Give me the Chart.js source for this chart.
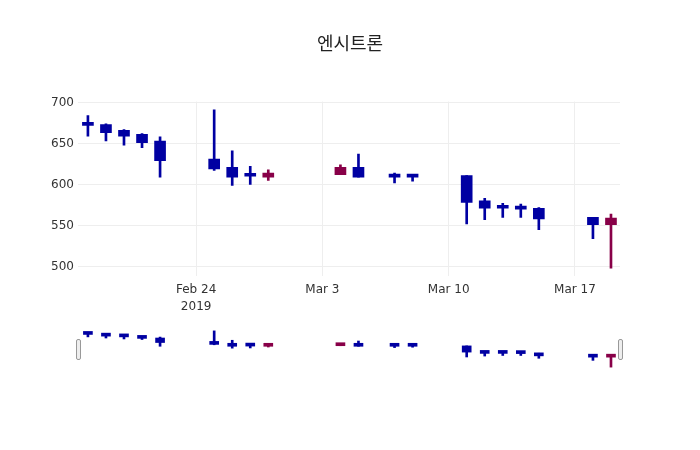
<!DOCTYPE html>
<html lang="ko">
<head>
<meta charset="UTF-8">
<title>엔시트론</title>
<script src="https://cdn.jsdelivr.net/npm/chart.js"></script>
<style>
    body { margin: 0; background: #fff; }
    #wrap { position: relative; width: 700px; height: 450px; }
    #mainBox { position: absolute; left: 0; top: 0; width: 700px; height: 320px; }
    #sliderBox { position: absolute; left: 78px; top: 329px; width: 542px; height: 40px; }
    .grabber {
        position: absolute; top: 339px; width: 3px; height: 19px;
        border: 1px solid #999; background: #eee; border-radius: 2px;
    }
</style>
</head>
<body>
<div id="wrap">
    <div id="mainBox"><canvas id="candleChart"></canvas></div>
    <div id="sliderBox"><canvas id="sliderChart"></canvas></div>
    <div class="grabber" style="left:76px"></div>
    <div class="grabber" style="left:618px"></div>
</div>
<script>
const dates = ['2019-02-18','2019-02-19','2019-02-20','2019-02-21','2019-02-22',
               '2019-02-25','2019-02-26','2019-02-27','2019-02-28',
               '2019-03-04','2019-03-05','2019-03-07','2019-03-08',
               '2019-03-11','2019-03-12','2019-03-13','2019-03-14','2019-03-15',
               '2019-03-18','2019-03-19'];
const openVals  = [675, 673, 666, 661, 653, 631, 621, 611, 609, 612, 621, 610, 611, 611, 580, 572, 572, 571, 560, 551];
const highVals  = [684, 674, 667, 662, 658, 691, 641, 622, 618, 624, 637, 614, 612, 611, 583, 577, 576, 572, 560, 564];
const lowVals   = [659, 653, 648, 645, 609, 617, 599, 600, 605, 612, 609, 602, 604, 552, 557, 560, 560, 545, 534, 498];
const closeVals = [672, 663, 659, 651, 629, 619, 609, 610, 614, 621, 609, 609, 609, 578, 571, 571, 570, 558, 551, 559];

const tickDates = ['2019-02-24', '2019-03-03', '2019-03-10', '2019-03-17'];
const tickLabels = [['Feb 24', '2019'], 'Mar 3', 'Mar 10', 'Mar 17'];
const yTicks = [500, 550, 600, 650, 700];

const UP = '#880048';
const DOWN = '#0000a2';
const FONT = '"DejaVu Sans", "Noto Sans CJK KR", sans-serif';
const TEXT = '#333';

// day numbers counted from the first trading day
const base = Date.parse(dates[0]);
const dayOf = s => (Date.parse(s) - base) / 86400000;
const xs = dates.map(dayOf);
const tickXs = tickDates.map(dayOf);
const colors = openVals.map((o, i) => closeVals[i] >= o ? UP : DOWN);

const xMin = xs[0] - 0.55;
const xMax = xs[xs.length - 1] + 0.5;
const yMin = 488, yMax = 701;

function makeDatasets(bodyW, wickW) {
    return [
        {
            data: xs.map((x, i) => ({ x: x, y: [openVals[i], closeVals[i]] })),
            backgroundColor: colors,
            barThickness: bodyW,
            minBarLength: 3,
            grouped: false,
            borderWidth: 0
        },
        {
            data: xs.map((x, i) => ({ x: x, y: [lowVals[i], highVals[i]] })),
            backgroundColor: colors,
            barThickness: wickW,
            grouped: false,
            borderWidth: 0
        }
    ];
}

new Chart(document.getElementById('candleChart'), {
    type: 'bar',
    data: { datasets: makeDatasets(11, 2) },
    options: {
        responsive: true,
        maintainAspectRatio: false,
        animation: false,
        layout: { padding: 0 },
        plugins: {
            legend: { display: false },
            tooltip: { enabled: false },
            title: {
                display: true,
                text: '엔시트론',
                color: '#222',
                font: { family: '"Noto Sans CJK KR", sans-serif', size: 18, weight: 'normal' },
                padding: { top: 32, bottom: 48 }
            }
        },
        scales: {
            x: {
                type: 'linear',
                offset: false,
                min: xMin,
                max: xMax,
                afterBuildTicks: s => { s.ticks = tickXs.map(v => ({ value: v })); },
                ticks: {
                    color: TEXT,
                    padding: 5,
                    maxRotation: 0,
                    autoSkip: false,
                    font: { family: FONT, size: 12, lineHeight: 1.4 },
                    callback: (v, i) => tickLabels[i]
                },
                grid: { color: '#eee', drawTicks: false, offset: false },
                border: { display: false }
            },
            y: {
                min: yMin,
                max: yMax,
                afterBuildTicks: s => { s.ticks = yTicks.map(v => ({ value: v })); },
                afterFit: s => { s.width = 78; },
                ticks: {
                    color: TEXT,
                    padding: 4,
                    font: { family: FONT, size: 12 }
                },
                grid: { color: '#eee', drawTicks: false },
                border: { display: false }
            },
            // empty right margin so the title stays centred on the page
            yRight: {
                position: 'right',
                min: yMin,
                max: yMax,
                afterFit: s => { s.width = 80; },
                ticks: { display: false },
                grid: { display: false },
                border: { display: false }
            }
        }
    }
});

// range slider preview
new Chart(document.getElementById('sliderChart'), {
    type: 'bar',
    data: { datasets: makeDatasets(9, 2) },
    options: {
        responsive: true,
        maintainAspectRatio: false,
        animation: false,
        layout: { padding: 0 },
        plugins: { legend: { display: false }, tooltip: { enabled: false } },
        scales: {
            x: { type: 'linear', offset: false, min: xMin, max: xMax, display: false },
            y: { min: yMin, max: yMax, display: false }
        }
    }
});
</script>
</body>
</html>
